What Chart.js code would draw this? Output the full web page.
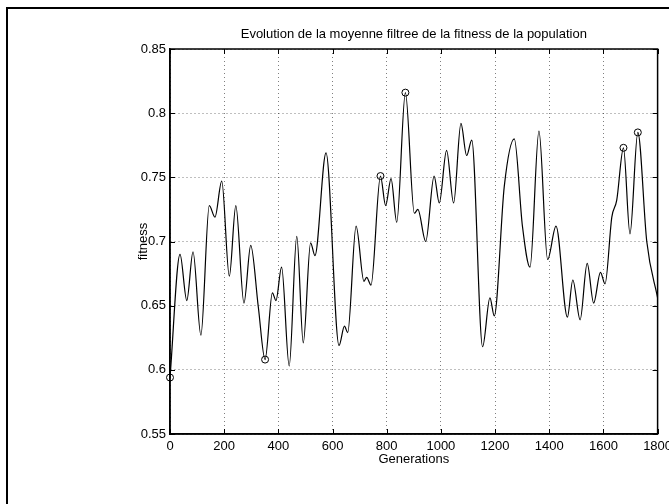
<!DOCTYPE html>
<html>
<head>
<meta charset="utf-8">
<script src="https://cdn.jsdelivr.net/npm/chart.js@4/dist/chart.umd.min.js"></script>
<style>
  html, body { margin: 0; padding: 0; background: #ffffff; }
  #c { display: block; }
</style>
</head>
<body>
<canvas id="c" width="669" height="504"></canvas>
<script>
// ---- data ----
const generations = [0, 37, 62, 85, 114, 145, 166, 191, 219, 243, 273, 298, 326, 351, 378, 391, 412, 440,
  468, 492, 519, 535, 576, 624, 644, 656, 687, 716, 726, 742, 777, 796, 816, 837, 869, 902, 915, 944,
  975, 994, 1021, 1047, 1074, 1095, 1114, 1154, 1181, 1197, 1234, 1271, 1301, 1329, 1362, 1394, 1425,
  1467, 1487, 1514, 1540, 1564, 1589, 1606, 1631, 1649, 1674, 1698, 1727, 1760, 1800];
const fitness = [0.594, 0.690, 0.654, 0.692, 0.627, 0.728, 0.719, 0.747, 0.673, 0.728, 0.652, 0.697, 0.649,
  0.608, 0.660, 0.654, 0.680, 0.603, 0.704, 0.621, 0.699, 0.689, 0.769, 0.619, 0.634, 0.629, 0.712, 0.669,
  0.672, 0.666, 0.751, 0.728, 0.749, 0.715, 0.816, 0.722, 0.725, 0.700, 0.751, 0.730, 0.771, 0.730, 0.792,
  0.767, 0.779, 0.618, 0.656, 0.642, 0.743, 0.780, 0.712, 0.680, 0.786, 0.686, 0.712, 0.641, 0.670, 0.639,
  0.683, 0.652, 0.676, 0.667, 0.719, 0.732, 0.773, 0.706, 0.785, 0.700, 0.656];
const markedGenerations = [0, 351, 777, 869, 1674, 1727];
const markedFitness = [0.594, 0.608, 0.751, 0.816, 0.773, 0.785];
const xTickLabels = ['0', '200', '400', '600', '800', '1000', '1200', '1400', '1600', '1800'];
const yTickLabels = ['0.55', '0.6', '0.65', '0.7', '0.75', '0.8', '0.85'];
const titleText = 'Evolution de la moyenne filtree de la fitness de la population';
const xTitle = 'Generations';
const yTitle = 'fitness';

// ---- chart ----
const FONT = { family: '"Liberation Sans", Arial, Helvetica, sans-serif', size: 13, lineHeight: 1.2 };

const framePlugin = {
  id: 'frame',
  afterDraw(chart) {
    const ctx = chart.ctx;
    const a = chart.chartArea;
    const xs = chart.scales.x, ys = chart.scales.y;
    ctx.save();
    // outer figure frame (top and left edges visible)
    ctx.strokeStyle = '#000';
    ctx.lineWidth = 2;
    ctx.beginPath();
    ctx.moveTo(7, 520); ctx.lineTo(7, 8); ctx.lineTo(680, 8);
    ctx.stroke();
    // axes box
    ctx.lineWidth = 1.5;
    ctx.strokeRect(a.left, a.top, a.right - a.left, a.bottom - a.top);
    // inward tick marks on all four sides
    ctx.lineWidth = 1;
    const tl = 5;
    ctx.beginPath();
    xs.ticks.forEach(t => {
      const px = Math.round(xs.getPixelForValue(t.value)) + 0.5;
      ctx.moveTo(px, a.bottom); ctx.lineTo(px, a.bottom - tl);
      ctx.moveTo(px, a.top); ctx.lineTo(px, a.top + tl);
    });
    ys.ticks.forEach(t => {
      const py = Math.round(ys.getPixelForValue(t.value)) + 0.5;
      ctx.moveTo(a.left, py); ctx.lineTo(a.left + tl, py);
      ctx.moveTo(a.right, py); ctx.lineTo(a.right - tl, py);
    });
    ctx.stroke();
    ctx.restore();
  }
};

new Chart(document.getElementById('c'), {
  type: 'line',
  data: {
    datasets: [
      {
        data: generations.map((g, i) => ({ x: g, y: fitness[i] })),
        borderColor: '#000',
        borderWidth: 1.2,
        pointRadius: 0,
        cubicInterpolationMode: 'monotone',
        fill: false
      },
      {
        data: markedGenerations.map((g, i) => ({ x: g, y: markedFitness[i] })),
        showLine: false,
        pointStyle: 'circle',
        pointRadius: 3.5,
        pointBorderWidth: 1,
        pointBorderColor: '#000',
        pointBackgroundColor: 'rgba(0,0,0,0)',
        clip: false
      }
    ]
  },
  options: {
    responsive: false,
    animation: false,
    devicePixelRatio: 1,
    layout: { padding: { left: 0, right: 11.4, top: 0, bottom: 0 } },
    plugins: {
      legend: { display: false },
      tooltip: { enabled: false },
      title: { display: false }
    },
    scales: {
      x: {
        type: 'linear',
        min: 0, max: 1800,
        ticks: {
          stepSize: 200,
          color: '#000',
          font: FONT,
          padding: 5,
          maxRotation: 0,
          autoSkip: false,
          callback: (v) => { const i = Math.round(v / 200); return xTickLabels[i]; }
        },
        grid: { color: 'rgba(0,0,0,0.5)', lineWidth: 1, drawTicks: false },
        border: { display: true, color: '#000', width: 1.5, dash: [1, 3] },
        title: { display: true, text: xTitle, color: '#000', font: FONT, padding: { top: 0, bottom: 37.2 } },
        afterFit: (s) => { s.height = 70; s.paddingLeft = 0; s.paddingRight = 0; }
      },
      xTop: {
        type: 'linear',
        position: 'top',
        min: 0, max: 1800,
        ticks: { display: false },
        grid: { display: false, drawTicks: false },
        border: { display: false },
        title: { display: true, text: titleText, color: '#000', font: FONT, padding: { top: 26.7, bottom: 0 } },
        afterFit: (s) => { s.height = 49; s.paddingLeft = 0; s.paddingRight = 0; }
      },
      y: {
        type: 'linear',
        min: 0.55, max: 0.85,
        ticks: {
          stepSize: 0.05,
          color: '#000',
          font: FONT,
          padding: 4,
          autoSkip: false,
          callback: (v) => { const i = Math.round((v - 0.55) / 0.05); return yTickLabels[i]; }
        },
        grid: { color: 'rgba(0,0,0,0.5)', lineWidth: 1, drawTicks: false },
        border: { display: true, color: '#000', width: 1.5, dash: [1, 3] },
        title: { display: true, text: yTitle, color: '#000', font: FONT, padding: { top: 136, bottom: 0 } },
        afterFit: (s) => { s.width = 170; s.paddingTop = 0; s.paddingBottom = 0; }
      }
    }
  },
  plugins: [framePlugin]
});
</script>
</body>
</html>
